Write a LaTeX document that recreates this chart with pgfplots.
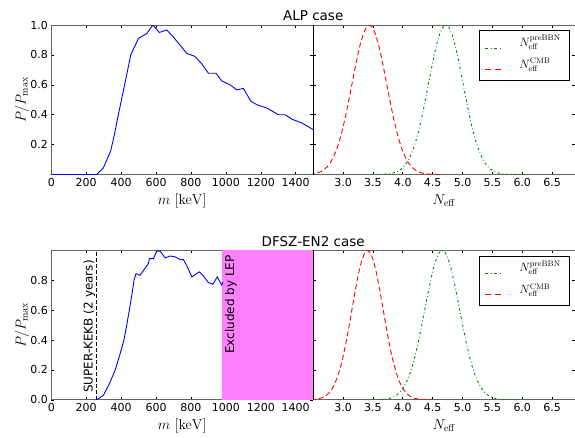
\documentclass[border=0pt]{standalone}
\usepackage[no-math]{fontspec}
\setmainfont{DejaVu Sans}
\usepackage{pgfplots}
\pgfplotsset{compat=1.18}
\definecolor{lepmag}{RGB}{255,128,255}
\definecolor{mplgreen}{RGB}{0,128,0}
\definecolor{spine}{RGB}{100,100,100}

\pgfplotsset{
  panel/.style={
    scale only axis, width=261.9pt, height=149.5pt, ymin=0, ymax=1,
    axis line style={spine, line width=1pt},
    tick align=inside, major tick length=3pt,
    tick style={black, line width=0.6pt},
    ticklabel style={font=\fontsize{11}{13}\selectfont},
    /pgf/number format/assume math mode=true,
    scaled ticks=false,
    label style={font=\fontsize{14}{16}\selectfont},
    xlabel style={at={(axis description cs:0.5,-0.2007)}, anchor=base},
    ylabel style={at={(axis description cs:-0.0985,0.5)}, anchor=base},
  },
  leftpanel/.style={panel, xmin=0, xmax=1500,
    xtick={0,200,400,600,800,1000,1200,1400},
    xticklabel style={/pgf/number format/1000 sep={}},
    yticklabel style={/pgf/number format/.cd, fixed, fixed zerofill, precision=1},
    xlabel={$m\ [\mathrm{keV}]$}, ylabel={$P/P_{\max}$}},
  rightpanel/.style={panel, xmin=2.5, xmax=6.885,
    xtick={3,3.5,4,4.5,5,5.5,6,6.5},
    xticklabel style={/pgf/number format/.cd, fixed, fixed zerofill, precision=1},
    yticklabels={},
    xlabel={$N_{\mathrm{eff}}$}},
  greenline/.style={draw=mplgreen, line width=0.9pt, dash pattern=on 2.5pt off 2.5pt on 0.8pt off 2.5pt},
  redline/.style={draw=red, line width=0.9pt, dash pattern=on 5pt off 3pt},
}

% legend drawn inside each right panel (box, samples, labels)
\newcommand{\mylegend}{%
  \draw[black, fill=white, line width=0.8pt] (rel axis cs:0.633,0.630) rectangle (rel axis cs:0.978,0.962);
  \draw[draw=mplgreen, line width=1pt, dash pattern=on 3pt off 2.5pt on 1pt off 2.5pt]
    (rel axis cs:0.656,0.846) -- (rel axis cs:0.721,0.846);
  \draw[draw=red, line width=1pt, dash pattern=on 6pt off 4pt]
    (rel axis cs:0.656,0.702) -- (rel axis cs:0.721,0.702);
  \node[anchor=base west, inner sep=0pt, font=\fontsize{12}{14}\selectfont]
    at (rel axis cs:0.786,0.856) {$N_{\mathrm{eff}}^{\mathrm{preBBN}}$};
  \node[anchor=base west, inner sep=0pt, font=\fontsize{12}{14}\selectfont]
    at (rel axis cs:0.786,0.712) {$N_{\mathrm{eff}}^{\mathrm{CMB}}$};
}

\begin{document}
\begin{tikzpicture}
% ---------------- top left: ALP ----------------
\begin{axis}[leftpanel, at={(51.3pt,-174.5pt)}, anchor=south west,
  ytick={0.2,0.4,0.6,0.8,1.0}]
\addplot[blue, line width=0.9pt] coordinates {
(0,0) (260,0) (298,0.044) (340,0.157) (362,0.27) (384,0.40) (420,0.60) (455,0.80)
(499,0.91) (547,0.943) (581,1.0) (619,0.95) (661,0.967) (699,0.92) (776,0.81)
(823,0.79) (862,0.74) (900,0.677) (944,0.677) (976,0.626) (1024,0.60) (1062,0.566)
(1100,0.576) (1143,0.49) (1177,0.467) (1234,0.445) (1301,0.40) (1339,0.40)
(1378,0.37) (1435,0.345) (1500,0.30)};
\end{axis}
% ---------------- top right ----------------
\begin{axis}[rightpanel, at={(313.2pt,-174.5pt)}, anchor=south west,
  ytick={0.2,0.4,0.6,0.8,1.0}]
\addplot[greenline] coordinates {
(3.55,0) (3.62,0.00075) (3.67,0.0014) (3.72,0.0026) (3.77,0.0047) (3.82,0.0081)
(3.87,0.0136) (3.92,0.0223) (3.97,0.0353) (4.02,0.0543) (4.07,0.0811) (4.12,0.118)
(4.17,0.166) (4.22,0.226) (4.27,0.300) (4.32,0.386) (4.37,0.483) (4.42,0.586)
(4.47,0.690) (4.52,0.788) (4.57,0.875) (4.62,0.942) (4.67,0.985) (4.72,1.0)
(4.77,0.985) (4.82,0.942) (4.87,0.875) (4.92,0.788) (4.97,0.690) (5.02,0.586)
(5.07,0.483) (5.12,0.386) (5.17,0.300) (5.22,0.226) (5.27,0.166) (5.32,0.118)
(5.37,0.0811) (5.42,0.0543) (5.47,0.0353) (5.52,0.0223) (5.57,0.0136) (5.62,0.0081)
(5.67,0.0047) (5.72,0.0026) (5.77,0.0014) (5.82,0.00075) (5.92,0.0002) (6.05,0)};
\addplot[redline] coordinates {
(2.44,0.0026) (2.49,0.0047) (2.54,0.0081) (2.59,0.0136) (2.64,0.0223) (2.69,0.0353)
(2.74,0.0543) (2.79,0.0811) (2.84,0.118) (2.89,0.166) (2.94,0.226) (2.99,0.300)
(3.04,0.386) (3.09,0.483) (3.14,0.586) (3.19,0.690) (3.24,0.788) (3.29,0.875)
(3.34,0.942) (3.39,0.985) (3.44,1.0) (3.49,0.985) (3.54,0.942) (3.59,0.875)
(3.64,0.788) (3.69,0.690) (3.74,0.586) (3.79,0.483) (3.84,0.386) (3.89,0.300)
(3.94,0.226) (3.99,0.166) (4.04,0.118) (4.09,0.0811) (4.14,0.0543) (4.19,0.0353)
(4.24,0.0223) (4.29,0.0136) (4.34,0.0081) (4.39,0.0047) (4.44,0.0026) (4.49,0.0014)
(4.54,0.0008) (4.6,0)};
\mylegend
\end{axis}
% ---------------- bottom left: DFSZ-EN2 ----------------
\begin{axis}[leftpanel, at={(51.3pt,-399.8pt)}, anchor=south west,
  ytick={0,0.2,0.4,0.6,0.8}]
\addplot[draw=none, fill=lepmag, forget plot] coordinates {
(980,0) (1500,0) (1500,1) (980,1)} -- cycle;
\addplot[black, line width=0.9pt, dash pattern=on 4pt off 2pt, forget plot] coordinates {
(260,0) (260,1)};
\addplot[blue, line width=0.9pt] coordinates {
(260,0) (298,0.03) (330,0.10) (366,0.20) (392,0.30) (416,0.40) (432,0.50) (447,0.60)
(461,0.70) (474,0.80) (485,0.844) (508,0.833) (556,0.911) (562,0.944) (585,0.944)
(604,0.995) (623,0.995) (652,0.949) (680,0.962) (709,0.956) (738,0.938) (757,0.938)
(779,0.889) (805,0.822) (848,0.856) (868,0.833) (900,0.784) (925,0.773) (951,0.822)
(976,0.767) (982,0.789)};
\node[rotate=90, anchor=west, inner sep=0pt, font=\fontsize{12}{14}\selectfont]
  at (axis cs:218,0.045) {SUPER-KEKB (2 years)};
\node[rotate=90, anchor=east, inner sep=0pt, font=\fontsize{12}{14}\selectfont]
  at (axis cs:1028,0.967) {Excluded by LEP};
\end{axis}
% ---------------- bottom right ----------------
\begin{axis}[rightpanel, at={(313.2pt,-399.8pt)}, anchor=south west,
  ytick={0.2,0.4,0.6,0.8}]
\addplot[greenline] coordinates {
(3.49,0) (3.56,0.00075) (3.61,0.0014) (3.66,0.0026) (3.71,0.0047) (3.76,0.0081)
(3.81,0.0136) (3.86,0.0223) (3.91,0.0353) (3.96,0.0543) (4.01,0.0811) (4.06,0.118)
(4.11,0.166) (4.16,0.226) (4.21,0.300) (4.26,0.386) (4.31,0.483) (4.36,0.586)
(4.41,0.690) (4.46,0.788) (4.51,0.875) (4.56,0.942) (4.61,0.985) (4.66,1.0)
(4.71,0.985) (4.76,0.942) (4.81,0.875) (4.86,0.788) (4.91,0.690) (4.96,0.586)
(5.01,0.483) (5.06,0.386) (5.11,0.300) (5.16,0.226) (5.21,0.166) (5.26,0.118)
(5.31,0.0811) (5.36,0.0543) (5.41,0.0353) (5.46,0.0223) (5.51,0.0136) (5.56,0.0081)
(5.61,0.0047) (5.66,0.0026) (5.71,0.0014) (5.76,0.00075) (5.86,0.0002) (6.0,0)};
\addplot[redline] coordinates {
(2.46,0.0013) (2.51,0.0025) (2.56,0.0048) (2.61,0.0088) (2.66,0.0156) (2.71,0.0267)
(2.76,0.0439) (2.81,0.0698) (2.86,0.107) (2.91,0.157) (2.96,0.224) (3.01,0.306)
(3.06,0.404) (3.11,0.514) (3.16,0.630) (3.21,0.744) (3.26,0.847) (3.31,0.929)
(3.36,0.982) (3.41,1.0) (3.46,0.982) (3.51,0.929) (3.56,0.847) (3.61,0.744)
(3.66,0.630) (3.71,0.514) (3.76,0.404) (3.81,0.306) (3.86,0.224) (3.91,0.157)
(3.96,0.107) (4.01,0.0698) (4.06,0.0439) (4.11,0.0267) (4.16,0.0156) (4.21,0.0088)
(4.26,0.0048) (4.31,0.0025) (4.36,0.0013) (4.41,0.0006) (4.5,0)};
\mylegend
\end{axis}
% shared borders and titles
\draw[black, line width=0.9pt] (313.2pt,-25pt) -- (313.2pt,-174.5pt);
\draw[black, line width=0.9pt] (313.2pt,-250.3pt) -- (313.2pt,-399.8pt);
\node[anchor=base, font=\fontsize{13.5}{16}\selectfont] at (313.2pt,-20.7pt) {ALP case};
\node[anchor=base, font=\fontsize{13.5}{16}\selectfont] at (313.2pt,-246pt) {DFSZ-EN2 case};
\pgfresetboundingbox
\path (0pt,0pt) rectangle (575pt,-437pt);
\end{tikzpicture}
\end{document}
